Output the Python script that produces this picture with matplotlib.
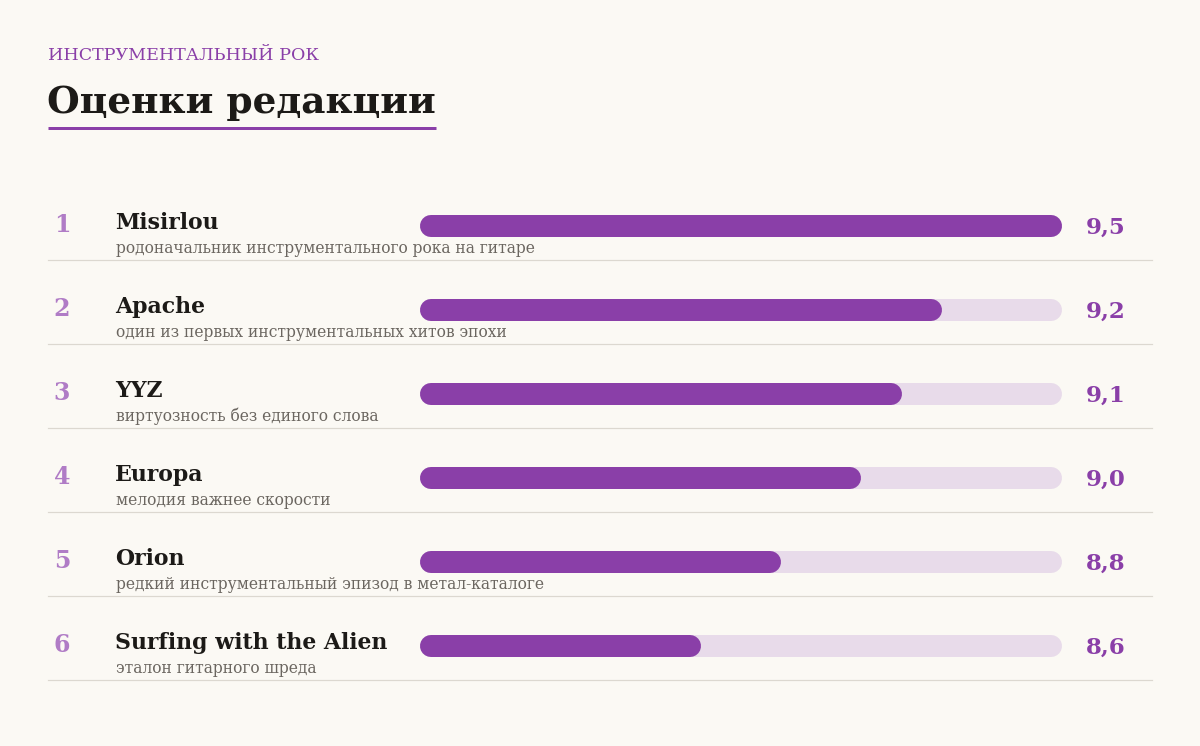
import matplotlib
matplotlib.use("Agg")
import matplotlib.pyplot as plt
from matplotlib.lines import Line2D
from matplotlib import transforms

# ---- data ----
kicker = "ИНСТРУМЕНТАЛЬНЫЙ РОК"
title = "Оценки редакции"
ranks = ["1", "2", "3", "4", "5", "6"]
names = ["Misirlou", "Apache", "YYZ", "Europa", "Orion", "Surfing with the Alien"]
notes = [
    "родоначальник инструментального рока на гитаре",
    "один из первых инструментальных хитов эпохи",
    "виртуозность без единого слова",
    "мелодия важнее скорости",
    "редкий инструментальный эпизод в метал-каталоге",
    "эталон гитарного шреда",
]
scores = [9.5, 9.2, 9.1, 9.0, 8.8, 8.6]
score_labels = ["9,5", "9,2", "9,1", "9,0", "8,8", "8,6"]
scale_min, scale_max = 7.9, 9.5

# ---- style ----
BG = "#fbf9f4"
PURPLE = "#8a3fa8"
TRACK = "#e8dbea"
RANK_C = "#b07cc6"
INK = "#1c1a17"
SUB = "#6b6660"
RULE = "#dcd8d0"
SERIF = ["DejaVu Serif"]

W, H = 1200, 746
fig = plt.figure(figsize=(W / 100, H / 100), dpi=100, facecolor=BG)

def fx(x):
    return x / W

def fy(y):
    return 1 - y / H

# header
fig.text(fx(48), fy(55), kicker, family=SERIF, fontsize=12.6, color=PURPLE,
         ha="left", va="center")
t = fig.text(fx(47), fy(113), title, family=SERIF, fontsize=27, weight="bold",
             color=INK, ha="left", va="baseline")

# rows axes
row_h = 84
top = 226 - row_h / 2
n = len(names)
ax = fig.add_axes([fx(420), fy(top + row_h * n), fx(1062) - fx(420), row_h * n / H])
ax.set_xlim(scale_min, scale_max)
ax.set_ylim(n - 0.5, -0.5)
ax.axis("off")
ax.patch.set_alpha(0)

fig.canvas.draw()
renderer = fig.canvas.get_renderer()
bb = t.get_window_extent(renderer)
fig.add_artist(Line2D([bb.x0 / W + 0.001, bb.x1 / W], [fy(128), fy(128)],
                      lw=3 * 0.72, color=PURPLE, solid_capstyle="butt"))

px_w = ax.get_window_extent(renderer).width
bar_px = 22
inset = (bar_px / 2) * (scale_max - scale_min) / px_w
lw_pt = bar_px * 72 / 100

mixed = ("figure fraction", "data")
for i in range(n):
    ax.plot([scale_min + inset, scale_max - inset], [i, i], color=TRACK,
            lw=lw_pt, solid_capstyle="round", zorder=1)
    ax.plot([scale_min + inset, scores[i] - inset], [i, i], color=PURPLE,
            lw=lw_pt, solid_capstyle="round", zorder=2)
    ax.annotate(ranks[i], xy=(fx(62), i), xycoords=mixed, xytext=(0, 1),
                textcoords="offset pixels", ha="center", va="center",
                family=SERIF, fontsize=17, weight="bold", color=RANK_C,
                annotation_clip=False)
    ax.annotate(names[i], xy=(fx(115), i), xycoords=mixed, xytext=(0, -3),
                textcoords="offset pixels", ha="left", va="baseline",
                family=SERIF, fontsize=15.8, weight="bold", color=INK,
                annotation_clip=False)
    ax.annotate(notes[i], xy=(fx(116), i), xycoords=mixed, xytext=(0, -27),
                textcoords="offset pixels", ha="left", va="baseline",
                family=SERIF, fontsize=11.2, color=SUB,
                annotation_clip=False)
    ax.annotate(score_labels[i], xy=(fx(1086), i), xycoords=mixed, xytext=(0, -2),
                textcoords="offset pixels", ha="left", va="center",
                family=SERIF, fontsize=16.5, weight="bold", color=PURPLE,
                annotation_clip=False)
    yy = i + 34 / row_h
    ln = Line2D([fx(48), fx(1152)], [yy, yy], lw=1 * 0.72 * 1.2, color=RULE,
                transform=transforms.blended_transform_factory(fig.transFigure, ax.transData),
                clip_on=False)
    ax.add_artist(ln)

fig.savefig("out.png", dpi=100, facecolor=BG)
